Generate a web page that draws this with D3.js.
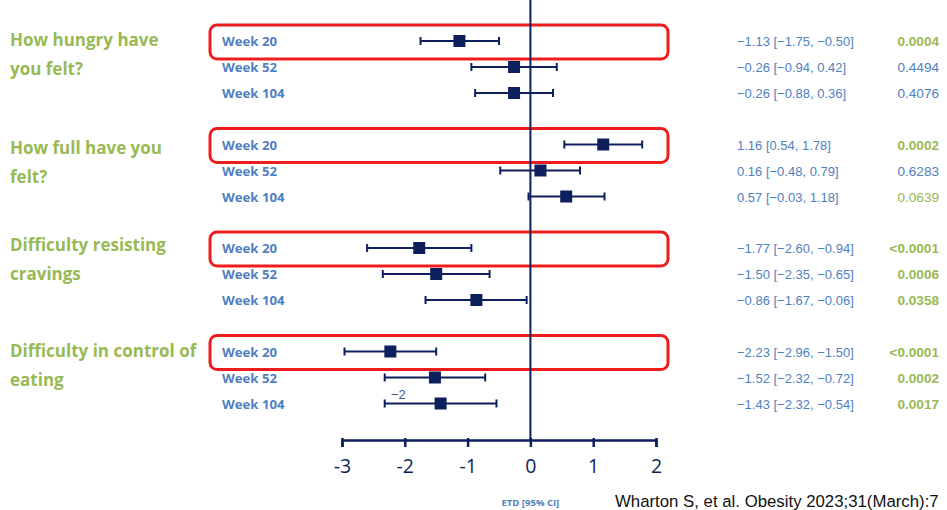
<!DOCTYPE html>
<html lang="en">
<head>
<meta charset="UTF-8">
<title>ETD forest plot</title>
<script src="https://cdn.jsdelivr.net/npm/d3@7"></script>
<style>
  body { margin: 0; background: #fff; }
  svg { display: block; }
</style>
</head>
<body>
<script>
  // data
  const questions = [
    ["How hungry have", "you felt?"],
    ["How full have you", "felt?"],
    ["Difficulty resisting", "cravings"],
    ["Difficulty in control of", "eating"]
  ];
  const weeks = ["Week 20", "Week 52", "Week 104"];
  const estimate = [-1.13, -0.26, -0.26, 1.16, 0.16, 0.57, -1.77, -1.50, -0.86, -2.23, -1.52, -1.43];
  const lower = [-1.75, -0.94, -0.88, 0.54, -0.48, -0.03, -2.60, -2.35, -1.67, -2.96, -2.32, -2.32];
  const upper = [-0.50, 0.42, 0.36, 1.78, 0.79, 1.18, -0.94, -0.65, -0.06, -1.50, -0.72, -0.54];
  const pLabels = ["0.0004", "0.4494", "0.4076", "0.0002", "0.6283", "0.0639",
    "<0.0001", "0.0006", "0.0358", "<0.0001", "0.0002", "0.0017"];
  const pSig = [true, false, false, true, false, true, true, true, true, true, true, true];
  const pBold = [true, false, false, true, false, false, true, true, true, true, true, true];
  const ticks = [-3, -2, -1, 0, 1, 2];

  const width = 947, height = 510;
  const navy = "#0e1f5e", blue = "#4f7fc0", green = "#98b954";

  const svg = d3.select("body").append("svg")
    .attr("width", width).attr("height", height);

  const x = d3.scaleLinear().domain([-3, 2]).range([342, 656]);
  // row position: group index + week index
  const rowY = i => 41 + Math.floor(i / 3) * 103.5 + (i % 3) * 26;

  // red highlight boxes around week 20
  svg.append("g").selectAll("rect")
    .data(questions)
    .enter().append("rect")
    .attr("x", 210).attr("y", (d, g) => rowY(g * 3) - 16)
    .attr("width", 458).attr("height", 34)
    .attr("rx", 7)
    .attr("fill", "none").attr("stroke", "#ee1c1c").attr("stroke-width", 3);

  // zero line
  svg.append("line")
    .attr("x1", x(0)).attr("x2", x(0)).attr("y1", 0).attr("y2", 440)
    .attr("stroke", navy).attr("stroke-width", 2);

  // axis
  const axis = svg.append("g").attr("transform", "translate(0,440)")
    .call(d3.axisBottom(x).tickValues(ticks).tickSize(7).tickFormat(d3.format("d")));
  axis.select(".domain").attr("stroke", navy).attr("stroke-width", 2.5);
  axis.selectAll(".tick line").attr("stroke", navy).attr("stroke-width", 2.5).attr("y1", -2);
  axis.selectAll(".tick text")
    .attr("fill", navy).attr("font-family", "'Open Sans', sans-serif")
    .attr("font-size", 19.5).attr("y", 13).attr("dy", "1em")
    .text(d => d < 0 ? "-" + Math.abs(d) : d);

  // question labels
  const ql = svg.append("g").selectAll("text")
    .data(questions).enter().append("text")
    .attr("x", 10)
    .attr("font-family", "'Open Sans', sans-serif").attr("font-weight", "bold")
    .attr("font-size", 17).attr("fill", green);
  ql.each(function (d, g) {
    const t = d3.select(this);
    d.forEach((line, k) => {
      t.append("tspan").attr("x", 10)
        .attr("y", rowY(g * 3) + 5 + k * 29 + (g === 1 ? 4 : 0) + (g === 2 ? -2 : 0))
        .text(line);
    });
  });

  const rows = d3.range(estimate.length);

  // week labels
  svg.append("g").selectAll("text")
    .data(rows).enter().append("text")
    .attr("x", 222).attr("y", i => rowY(i) + 5)
    .attr("font-family", "'Open Sans', sans-serif").attr("font-weight", "bold")
    .attr("font-size", 13.2).attr("fill", blue)
    .text(i => weeks[i % 3]);

  // CI lines
  const ci = svg.append("g").attr("stroke", navy).attr("stroke-width", 2);
  ci.selectAll("line.ci").data(rows).enter().append("line")
    .attr("x1", i => x(lower[i])).attr("x2", i => x(upper[i]))
    .attr("y1", rowY).attr("y2", rowY);
  ci.selectAll("line.lo").data(rows).enter().append("line")
    .attr("x1", i => x(lower[i])).attr("x2", i => x(lower[i]))
    .attr("y1", i => rowY(i) - 4).attr("y2", i => rowY(i) + 4);
  ci.selectAll("line.hi").data(rows).enter().append("line")
    .attr("x1", i => x(upper[i])).attr("x2", i => x(upper[i]))
    .attr("y1", i => rowY(i) - 4).attr("y2", i => rowY(i) + 4);

  // point estimates
  svg.append("g").selectAll("rect")
    .data(rows).enter().append("rect")
    .attr("x", i => x(estimate[i]) - 6).attr("y", i => rowY(i) - 6)
    .attr("width", 12).attr("height", 12).attr("fill", navy);

  // stray label
  svg.append("text").attr("x", 391).attr("y", 399)
    .attr("font-family", "'Liberation Sans', sans-serif").attr("font-size", 13)
    .attr("fill", "#3d5a8c").text("\u22122");

  // ETD text
  const fmt = v => (v < 0 ? "\u2212" : "") + Math.abs(v).toFixed(2);
  svg.append("g").selectAll("text")
    .data(rows).enter().append("text")
    .attr("x", 737).attr("y", i => rowY(i) + 5)
    .attr("font-family", "'Liberation Sans', sans-serif")
    .attr("font-size", 13).attr("fill", blue)
    .text(i => fmt(estimate[i]) + " [" + fmt(lower[i]) + ", " + fmt(upper[i]) + "]");

  // p values
  svg.append("g").selectAll("text")
    .data(rows).enter().append("text")
    .attr("x", 939).attr("y", i => rowY(i) + 5)
    .attr("text-anchor", "end")
    .attr("font-family", "'Liberation Sans', sans-serif")
    .attr("font-size", 13.6)
    .attr("font-weight", i => pBold[i] ? "bold" : "normal")
    .attr("fill", i => pSig[i] ? green : blue)
    .text(i => pLabels[i]);

  // footer
  svg.append("text").attr("x", x(0)).attr("y", 506).attr("text-anchor", "middle")
    .attr("font-family", "'Open Sans', sans-serif").attr("font-weight", "bold")
    .attr("font-size", 9.5).attr("fill", blue).text("ETD [95% CI]");
  svg.append("text").attr("x", 615).attr("y", 507)
    .attr("font-family", "'Liberation Sans', Arial, sans-serif")
    .attr("font-size", 16.8).attr("fill", "#111")
    .text("Wharton S, et al. Obesity 2023;31(March):7");
</script>
</body>
</html>
